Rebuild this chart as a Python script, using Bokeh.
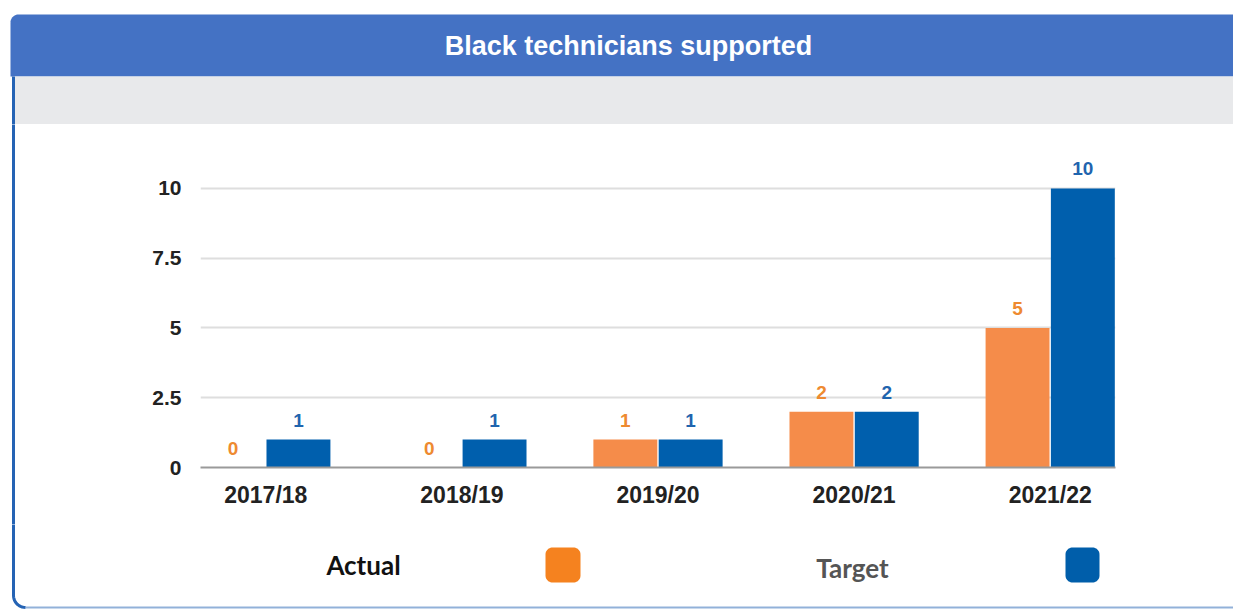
import numpy as np
from bokeh.plotting import figure
from bokeh.layouts import row, column
from bokeh.models import (ColumnDataSource, Range1d, FixedTicker, NumeralTickFormatter, LabelSet)
from bokeh.core.properties import value
from bokeh.transform import dodge
from bokeh.embed import file_html
from bokeh.resources import INLINE

# ---------------- data ----------------
years = ["2017/18", "2018/19", "2019/20", "2020/21", "2021/22"]
actual = [0, 0, 1, 2, 5]
target = [1, 1, 1, 2, 10]
y_ticks = [0, 2.5, 5, 7.5, 10]
title_text = "Black technicians supported"
legend_names = ["Actual", "Target"]

ORANGE = "#F58C4A"
BLUE = "#005FAD"
FRAME_BLUE = "#2563B4"
HEAD_BLUE = "#4472C4"
BAND_GRAY = "#E8E9EB"

W, H = 1233, 609
SW = 30                      # width of the strip left of the chart
HH, CH, LH = 124, 400, 85    # header / chart / legend heights
BX = 13                      # x of the left frame line


def deco_fig(w, h, x0, x1, y0, y1):
    f = figure(width=w, height=h, output_backend="svg", toolbar_location=None,
               x_range=Range1d(x0, x1), y_range=Range1d(y1, y0),
               x_axis_type=None, y_axis_type=None,
               min_border=0, min_border_left=0, min_border_right=0,
               min_border_top=0, min_border_bottom=0)
    f.outline_line_color = None
    f.grid.visible = False
    f.background_fill_color = "white"
    f.border_fill_color = "white"
    return f


def rrect(l, r, t, b, tl=0, tr=0, br=0, bl=0, n=12):
    xs, ys = [], []
    def arc(cx, cy, rad, a0, a1):
        a = np.linspace(a0, a1, n)
        xs.extend(cx + rad * np.cos(a))
        ys.extend(cy + rad * np.sin(a))
    # y grows downward in these figures
    arc(l + tl, t + tl, tl, np.pi, 1.5 * np.pi)
    arc(r - tr, t + tr, tr, 1.5 * np.pi, 2 * np.pi)
    arc(r - br, b - br, br, 0, 0.5 * np.pi)
    arc(l + bl, b - bl, bl, 0.5 * np.pi, np.pi)
    return xs, ys


# ---------------- header (full width) ----------------
Hd = deco_fig(W, HH, 0, W, 0, HH)
xs, ys = rrect(10, W + 20, 14, 76, tl=8)
Hd.patch(xs, ys, fill_color=HEAD_BLUE, line_color=None)
Hd.quad(left=BX, right=W + 10, top=76, bottom=124, fill_color=BAND_GRAY, line_color=None)
Hd.line([BX, BX], [76, HH + 5], line_color=FRAME_BLUE, line_width=3)
Hd.text(x=[628], y=[45], text=[title_text], text_align="center", text_baseline="middle",
        text_color="white", text_font=value("Liberation Sans"), text_font_style="bold",
        text_font_size="27px")

# ---------------- strip left of chart ----------------
S = deco_fig(SW, CH, 0, SW, HH, HH + CH)
S.line([BX, BX], [HH - 5, HH + CH + 5], line_color=FRAME_BLUE, line_width=3)

# ---------------- chart ----------------
idx = list(range(len(years)))
src = ColumnDataSource(dict(x=idx, actual=actual, target=target,
                            actual_txt=[str(v) for v in actual],
                            target_txt=[str(v) for v in target]))

FL, FR, FT, FB = 200, 1115, 150, 467   # frame edges on the page
C = figure(width=W - SW, height=CH, output_backend="svg", toolbar_location=None,
           x_range=Range1d(-0.333, len(years) - 1 + 0.333),
           y_range=Range1d(0, 11.36),
           min_border_left=FL - SW, min_border_right=W - FR,
           min_border_top=FT - HH, min_border_bottom=HH + CH - FB)
C.outline_line_color = None
C.background_fill_color = "white"
C.border_fill_color = "white"

bw = 0.326
off = 0.1665
C.vbar(x=dodge("x", -off, range=C.x_range), top="actual", width=bw, source=src,
       fill_color=ORANGE, line_color=None)
C.vbar(x=dodge("x", off, range=C.x_range), top="target", width=bw, source=src,
       fill_color=BLUE, line_color=None)

for col, txt, dx, colr in (("actual", "actual_txt", -off, "#EE8A30"),
                           ("target", "target_txt", off, "#1F64AE")):
    C.add_layout(LabelSet(x=dodge("x", dx, range=C.x_range), y=col, text=txt, source=src,
                          text_align="center", text_baseline="alphabetic", y_offset=13,
                          text_font=value("Liberation Sans"), text_font_style="bold",
                          text_font_size="19px", text_color=colr))

C.yaxis.ticker = FixedTicker(ticks=y_ticks)
C.yaxis.formatter = NumeralTickFormatter(format="0.[0]")
C.yaxis.axis_line_color = None
C.yaxis.major_tick_line_color = None
C.yaxis.minor_tick_line_color = None
C.yaxis.major_label_text_font = "Liberation Sans"
C.yaxis.major_label_text_font_style = "bold"
C.yaxis.major_label_text_font_size = "21px"
C.yaxis.major_label_text_color = "#222222"
C.yaxis.major_label_standoff = 13

C.xaxis.ticker = FixedTicker(ticks=idx)
C.xaxis.major_label_overrides = {i: y for i, y in zip(idx, years)}
C.xaxis.axis_line_color = "#9a9a9a"
C.xaxis.axis_line_width = 2
C.xaxis.major_tick_line_color = None
C.xaxis.minor_tick_line_color = None
C.xaxis.major_label_text_font = "Liberation Sans"
C.xaxis.major_label_text_font_style = "bold"
C.xaxis.major_label_text_font_size = "23px"
C.xaxis.major_label_text_color = "#222222"
C.xaxis.major_label_standoff = 8

C.xgrid.grid_line_color = None
C.ygrid.grid_line_color = "#dedede"
C.ygrid.grid_line_width = 2

# ---------------- legend (full width) ----------------
L = deco_fig(W, LH, 0, W, HH + CH, H)
for (l, r), colr in (((545, 580), "#F5821F"), ((1065, 1099), "#005EAA")):
    xs, ys = rrect(l, r, 547, 582, tl=7, tr=7, br=7, bl=7)
    L.patch(xs, ys, fill_color=colr, line_color=None)
L.text(x=[363, 852], y=[564, 567], text=legend_names, text_align="center",
       text_baseline="middle", text_color=["#111111", "#555555"],
       text_font=value("Lato"), text_font_style="bold", text_font_size="26px")
a = np.linspace(np.pi, 0.5 * np.pi, 12)
bx = [BX] + list(BX + 12 + 12 * np.cos(a))
by = [HH + CH - 5] + list(595 + 12 * np.sin(a))
L.line(bx, by, line_color=FRAME_BLUE, line_width=3)
L.line([BX + 12, W], [607, 607], line_color=FRAME_BLUE, line_width=2, line_alpha=0.5)

layout = column(Hd, row(column(S, spacing=0), row(C, spacing=0), spacing=0), L, spacing=0)
open("out.html", "w").write(file_html(layout, INLINE))
